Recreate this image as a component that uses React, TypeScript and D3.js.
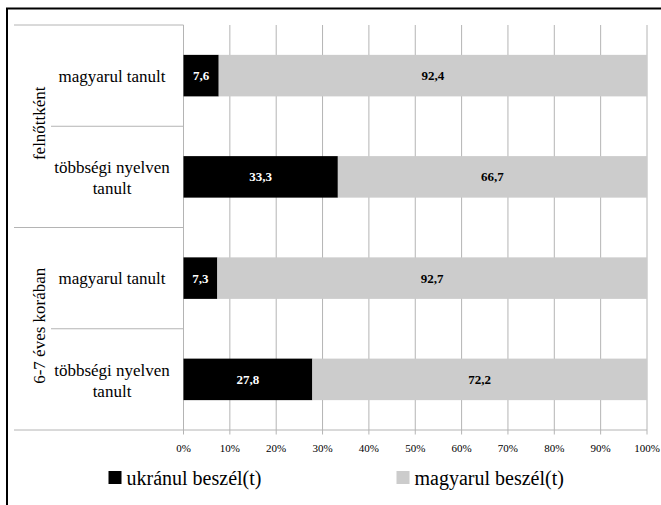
import React from "react";
import * as d3 from "d3";

// Categories: outer groups and the rows inside each group
const groups = ["felnőttként", "6-7 éves korában"];
const rowLabels = [
  ["magyarul tanult"],
  ["többségi nyelven", "tanult"],
  ["magyarul tanult"],
  ["többségi nyelven", "tanult"],
];
const rowGroup = [0, 0, 1, 1];

// Series values (%)
const ukrainianValues = [7.6, 33.3, 7.3, 27.8];
const hungarianValues = [92.4, 66.7, 92.7, 72.2];

const seriesNames = ["ukránul beszél(t)", "magyarul beszél(t)"];
const seriesColors = ["#000000", "#cccccc"];

const ticks = [0, 10, 20, 30, 40, 50, 60, 70, 80, 90, 100];

const fmt = (v: number) => v.toFixed(1).replace(".", ",");

const SERIF = "Liberation Serif";

export default function App() {
  const W = 661;
  const H = 505;
  const plotTop = 25;
  const plotBottom = 430;
  const x0 = 183.5;
  const x1 = 647;
  const leftEdge = 14;
  const innerLeft = 51;
  const gridColor = "#b4b4b4";

  const x = d3.scaleLinear().domain([0, 100]).range([x0, x1]);
  const rowIds = rowLabels.map((_, i) => String(i));
  const y = d3
    .scaleBand<string>()
    .domain(rowIds)
    .range([plotTop, plotBottom])
    .paddingInner(0.59)
    .paddingOuter(0.295);
  const step = y.step();
  const rowCenter = (i: number) => plotTop + step * (i + 0.5);

  const stackData = rowIds.map((id, i) => ({
    id,
    a: ukrainianValues[i],
    b: hungarianValues[i],
  }));
  const stack = d3.stack<any>().keys(["a", "b"]);
  const layers = stack(stackData);

  return (
    <svg width={W} height={H} style={{ position: "absolute", left: 0, top: 0 }}>
      <style>{`text { font-family: "${SERIF}"; }`}</style>
      <rect x={0} y={0} width={W} height={H} fill="#fff" />
      {/* frame */}
      <rect x={7} y={8.5} width={700} height={600} fill="none" stroke="#000" strokeWidth={2} />

      {/* vertical gridlines and ticks */}
      {ticks.map((t) => (
        <line
          key={"g" + t}
          x1={x(t)}
          x2={x(t)}
          y1={plotTop}
          y2={plotBottom + 4.5}
          stroke={gridColor}
          strokeWidth={1}
        />
      ))}

      {/* category separators */}
      <line x1={leftEdge} x2={x0} y1={plotTop} y2={plotTop} stroke={gridColor} />
      {rowIds.map((_, i) => {
        if (i === 0) return null;
        const yy = plotTop + step * i;
        const startX = rowGroup[i] !== rowGroup[i - 1] ? leftEdge : innerLeft;
        return <line key={"s" + i} x1={startX} x2={x0} y1={yy} y2={yy} stroke={gridColor} />;
      })}
      <line x1={leftEdge} x2={x1} y1={plotBottom} y2={plotBottom} stroke={gridColor} />

      {/* bars */}
      {layers.map((layer, li) =>
        layer.map((d: any, i: number) => (
          <rect
            key={li + "-" + i}
            x={x(d[0])}
            y={y(rowIds[i])}
            width={x(d[1]) - x(d[0])}
            height={y.bandwidth()}
            fill={seriesColors[li]}
          />
        ))
      )}

      {/* value labels */}
      {layers.map((layer, li) =>
        layer.map((d: any, i: number) => (
          <text
            key={"v" + li + "-" + i}
            x={(x(d[0]) + x(d[1])) / 2}
            y={rowCenter(i) + 4.5}
            textAnchor="middle"
            fontSize={13}
            fontWeight="bold"
            fontFamily={SERIF}
            fill={li === 0 ? "#fff" : "#000"}
            style={{ fontFamily: SERIF }}
          >
            {fmt(d[1] - d[0])}
          </text>
        ))
      )}

      {/* row labels */}
      {rowLabels.map((lines, i) => {
        const c = rowCenter(i);
        const base = lines.length === 1 ? c + 6 : c - 3.6;
        return lines.map((ln, k) => (
          <text
            key={"r" + i + k}
            x={112}
            y={base + k * 21}
            textAnchor="middle"
            fontSize={17}
            fontFamily={SERIF}
            fill="#000"
            style={{ fontFamily: SERIF }}
          >
            {ln}
          </text>
        ));
      })}

      {/* group labels */}
      {groups.map((g, gi) => {
        const cy = plotTop + step * (gi * 2 + 1) - 3;
        return (
          <text
            key={"grp" + gi}
            transform={`translate(44.5,${cy}) rotate(-90)`}
            textAnchor="middle"
            fontSize={17}
            fontFamily={SERIF}
            fill="#000"
            style={{ fontFamily: SERIF }}
          >
            {g}
          </text>
        );
      })}

      {/* axis tick labels */}
      {ticks.map((t) => (
        <text
          key={"t" + t}
          x={x(t)}
          y={452}
          textAnchor="middle"
          fontSize={11}
          fontFamily={SERIF}
          fill="#000"
          style={{ fontFamily: SERIF }}
        >
          {t + "%"}
        </text>
      ))}

      {/* legend */}
      {seriesNames.map((name, i) => {
        const lx = i === 0 ? 108.5 : 396.5;
        return (
          <g key={"l" + i}>
            <rect x={lx} y={471} width={13} height={13} fill={seriesColors[i]} />
            <text x={lx + 18} y={484.5} fontSize={20} fontFamily={SERIF} fill="#000" style={{ fontFamily: SERIF }}>
              {name}
            </text>
          </g>
        );
      })}
    </svg>
  );
}
